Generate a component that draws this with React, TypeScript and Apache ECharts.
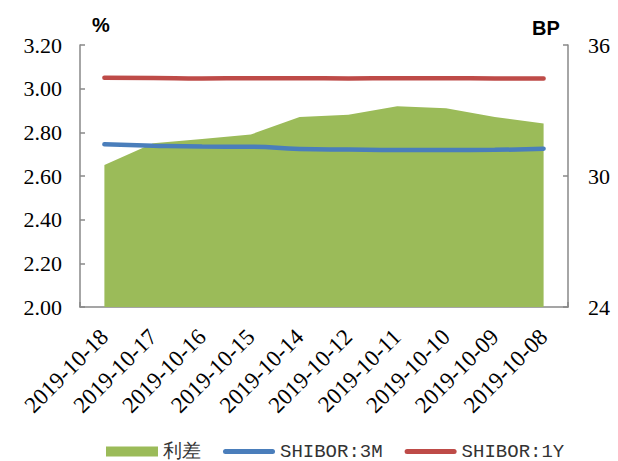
import React, { useEffect, useRef } from "react";
import * as echarts from "echarts";

// Trading dates (most recent first)
const dates = [
  "2019-10-18",
  "2019-10-17",
  "2019-10-16",
  "2019-10-15",
  "2019-10-14",
  "2019-10-12",
  "2019-10-11",
  "2019-10-10",
  "2019-10-09",
  "2019-10-08",
];

// Spread between 1Y and 3M SHIBOR, in basis points (right axis)
const spreadBP = [30.5, 31.5, 31.7, 31.9, 32.7, 32.8, 33.2, 33.1, 32.7, 32.4];

// SHIBOR rates, in percent (left axis)
const shibor3M = [2.745, 2.739, 2.735, 2.734, 2.724, 2.721, 2.719, 2.719, 2.72, 2.725];
const shibor1Y = [3.05, 3.049, 3.047, 3.048, 3.048, 3.047, 3.048, 3.048, 3.047, 3.047];

const leftTicks = { min: 2, max: 3.2, interval: 0.2 };
const rightTicks = { min: 24, max: 36, interval: 6 };

const GREEN = "#9BBB59";
const BLUE = "#4A7EBB";
const RED = "#BE4B48";
const AXIS_GRAY = "#888888";
const SERIF = "Liberation Serif";
const MONO = "Liberation Mono";

const lineIcon =
  "path://M2.5,0 L49.5,0 A2.5,2.5 0 0 1 49.5,5 L2.5,5 A2.5,2.5 0 0 1 2.5,0 Z";

export default function App() {
  const ref = useRef<HTMLDivElement>(null);

  useEffect(() => {
    if (!ref.current) return;
    const chart = echarts.init(ref.current, null, { renderer: "svg" });

    const axisLine = { show: true, lineStyle: { color: AXIS_GRAY, width: 1.5 } };
    const axisTick = {
      show: true,
      inside: true,
      length: 5,
      lineStyle: { color: AXIS_GRAY, width: 1.5 },
    };

    chart.setOption({
      animation: false,
      backgroundColor: "#ffffff",
      grid: { left: 80, right: 50, top: 45, bottom: 154, containLabel: false },
      graphic: [
        {
          type: "text",
          left: 92,
          top: 15,
          style: {
            text: "%",
            fontFamily: "Liberation Sans",
            fontWeight: "bold",
            fontSize: 20,
            fill: "#000",
          },
        },
        {
          type: "text",
          left: 532,
          top: 18,
          style: {
            text: "BP",
            fontFamily: "Liberation Sans",
            fontWeight: "bold",
            fontSize: 20,
            fill: "#000",
          },
        },
      ],
      legend: {
        left: 101,
        top: 437,
        itemWidth: 52,
        itemHeight: 10,
        itemGap: 22,
        textStyle: { fontFamily: MONO, fontSize: 19, color: "#333" },
        data: [
          { name: "利差", icon: "rect" },
          { name: "SHIBOR:3M", icon: lineIcon },
          { name: "SHIBOR:1Y", icon: lineIcon },
        ],
      },
      xAxis: {
        type: "category",
        data: dates,
        boundaryGap: true,
        axisLine,
        axisTick,
        splitLine: { show: false },
        axisLabel: {
          rotate: 45,
          interval: 0,
          margin: 26,
          fontFamily: SERIF,
          fontSize: 23,
          color: "#000",
        },
      },
      yAxis: [
        {
          type: "value",
          ...leftTicks,
          position: "left",
          axisLine,
          axisTick,
          splitLine: { show: false },
          axisLabel: {
            margin: 18,
            fontFamily: SERIF,
            fontSize: 22,
            color: "#000",
            formatter: (v: number) => v.toFixed(2),
          },
        },
        {
          type: "value",
          ...rightTicks,
          position: "right",
          axisLine,
          axisTick,
          splitLine: { show: false },
          axisLabel: {
            margin: 20,
            fontFamily: SERIF,
            fontSize: 22,
            color: "#000",
          },
        },
      ],
      series: [
        {
          name: "利差",
          type: "line",
          yAxisIndex: 1,
          data: spreadBP,
          symbol: "none",
          color: GREEN,
          lineStyle: { width: 0 },
          areaStyle: { color: GREEN, opacity: 1, origin: "start" },
          z: 1,
        },
        {
          name: "SHIBOR:3M",
          type: "line",
          yAxisIndex: 0,
          data: shibor3M,
          symbol: "none",
          smooth: true,
          color: BLUE,
          lineStyle: { width: 4.5, color: BLUE, cap: "round" },
          z: 3,
        },
        {
          name: "SHIBOR:1Y",
          type: "line",
          yAxisIndex: 0,
          data: shibor1Y,
          symbol: "none",
          smooth: true,
          color: RED,
          lineStyle: { width: 4.5, color: RED, cap: "round" },
          z: 3,
        },
      ],
    });

    return () => chart.dispose();
  }, []);

  return (
    <div
      ref={ref}
      style={{ position: "fixed", left: 0, top: 0, width: 618, height: 461 }}
    />
  );
}
